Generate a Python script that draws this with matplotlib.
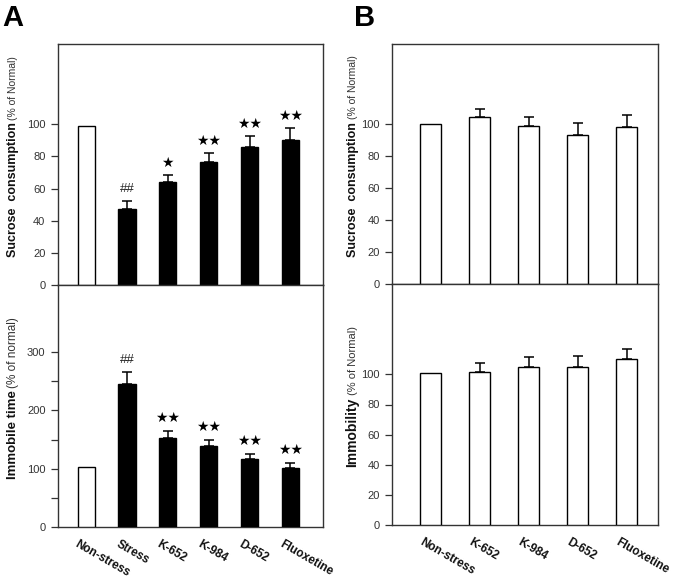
import matplotlib
matplotlib.use("Agg")
import matplotlib.pyplot as plt
import matplotlib.transforms as mtransforms
import numpy as np

plt.rcParams['font.family'] = ['Liberation Sans', 'DejaVu Sans']

# ---------------- data ----------------
groups_A = ["Non-stress", "Stress", "K-652", "K-984", "D-652", "Fluoxetine"]
sucrose_A = [98.8, 47.0, 64.0, 76.4, 85.9, 90.0]
sucrose_A_err = [0, 5.0, 4.3, 5.6, 6.6, 7.7]
sucrose_A_sig = ["", "##", "★", "★★", "★★", "★★"]
immobile_A = [103.0, 245.0, 153.4, 139.7, 117.3, 102.0]
immobile_A_err = [0, 20.6, 12.0, 10.3, 8.7, 8.5]
immobile_A_sig = ["", "##", "★★", "★★", "★★", "★★"]
fill_A = ["white", "black", "black", "black", "black", "black"]

groups_B = ["Non-stress", "K-652", "K-984", "D-652", "Fluoxetine"]
sucrose_B = [99.8, 104.1, 98.6, 93.0, 98.0]
sucrose_B_err = [0, 5.2, 5.7, 7.6, 7.6]
immob_B = [100.7, 101.3, 104.6, 104.6, 110.2]
immob_B_err = [0, 6.2, 6.7, 7.6, 6.6]
fill_B = ["white"] * 5

W, H = 675, 579
fig = plt.figure(figsize=(W / 100, H / 100), dpi=100)


def ax_px(left, top, right, bottom):
    return fig.add_axes([left / W, 1 - bottom / H, (right - left) / W, (bottom - top) / H])


axA1 = ax_px(58, 44, 323, 285)
axA2 = ax_px(58, 285, 323, 527)
axB1 = ax_px(392, 44, 658, 284)
axB2 = ax_px(392, 284, 658, 525)

TICK_COLOR = '#333333'


def draw_bars(ax, groups, vals, errs, fills, sig, ylim, yticks, ylabels, xlim, show_x):
    x = np.arange(len(groups))
    ax.bar(x, vals, width=0.42, color=fills, edgecolor='black', linewidth=1.0, zorder=3)
    has = [e > 0 for e in errs]
    xe = x[has]
    ve = np.array(vals)[has]
    ee = np.array(errs)[has]
    ax.errorbar(xe, ve, yerr=[np.zeros_like(ee), ee], fmt='none', ecolor='black',
                elinewidth=1.1, capsize=3.6, capthick=1.1, zorder=2)
    if sig is not None:
        for xi, v, e, s in zip(x, vals, errs, sig):
            if not s:
                continue
            is_hash = s.startswith('#')
            ax.annotate(s, (xi, v + e), xytext=(0, 9), textcoords='offset points',
                        ha='center', va='center',
                        fontsize=9.5 if is_hash else 10,
                        color='#222222' if is_hash else 'black',
                        family=['Liberation Sans', 'DejaVu Sans'] if is_hash else ['DejaVu Sans'])
    ax.set_xlim(*xlim)
    ax.set_ylim(*ylim)
    ax.set_yticks(yticks)
    ax.set_yticklabels(ylabels)
    ax.tick_params(axis='y', direction='out', length=5, width=0.9, pad=4,
                   labelsize=8, labelcolor=TICK_COLOR, color='#333333')
    for sp in ax.spines.values():
        sp.set_color('#333333')
        sp.set_linewidth(1.0)
    if show_x:
        ax.set_xticks(x)
        ax.set_xticklabels(groups, rotation=-30, ha='left', va='top',
                           rotation_mode='anchor', fontsize=8.5, fontweight='bold', color='#111111')
        ax.tick_params(axis='x', length=0, pad=8)
        off = mtransforms.ScaledTranslation(-7 / 100, 0, fig.dpi_scale_trans)
        for lab in ax.get_xticklabels():
            lab.set_transform(lab.get_transform() + off)
    else:
        ax.set_xticks([])


draw_bars(axA1, groups_A, sucrose_A, sucrose_A_err, fill_A, sucrose_A_sig,
          (0, 150), [0, 20, 40, 60, 80, 100], ['0', '20', '40', '60', '80', '100'],
          (-0.69, 5.8), False)
draw_bars(axA2, groups_A, immobile_A, immobile_A_err, fill_A, immobile_A_sig,
          (0, 415), [0, 50, 100, 150, 200, 250, 300], ['0', '', '100', '', '200', '', '300'],
          (-0.69, 5.8), True)
draw_bars(axB1, groups_B, sucrose_B, sucrose_B_err, fill_B, None,
          (0, 150), [0, 20, 40, 60, 80, 100], ['0', '20', '40', '60', '80', '100'],
          (-0.79, 4.64), False)
draw_bars(axB2, groups_B, immob_B, immob_B_err, fill_B, None,
          (0, 160), [0, 20, 40, 60, 80, 100], ['0', '20', '40', '60', '80', '100'],
          (-0.79, 4.64), True)

fig.canvas.draw()
renderer = fig.canvas.get_renderer()


def ylabel2(ax, bold, small, x_px, bold_size=9, small_size=7, gap=3):
    t1 = fig.text(x_px / W, 0, bold, rotation=90, rotation_mode='anchor', ha='left',
                  va='baseline', fontsize=bold_size, fontweight='bold', color='#111111')
    t2 = fig.text(x_px / W, 0, small, rotation=90, rotation_mode='anchor', ha='left',
                  va='baseline', fontsize=small_size, color='#333333')
    l1 = t1.get_window_extent(renderer).height
    l2 = t2.get_window_extent(renderer).height
    bb = ax.get_window_extent(renderer)
    center = (bb.y0 + bb.y1) / 2 + 8
    total = l1 + gap + l2
    y0 = center - total / 2
    t1.set_y(y0 / H)
    t2.set_y((y0 + l1 + gap) / H)


ylabel2(axA1, "Sucrose  consumption", "(% of Normal)", 16, bold_size=9, small_size=7.5)
ylabel2(axA2, "Immobile time", "(% of normal)", 16, bold_size=9.5, small_size=8.5, gap=2)
ylabel2(axB1, "Sucrose  consumption", "(% of Normal)", 356, bold_size=9, small_size=7.5)
ylabel2(axB2, "Immobility", "(% of Normal)", 356, bold_size=10, small_size=8, gap=2)

fig.text(2 / W, 1 - 26 / H, "A", fontsize=21, fontweight='bold', ha='left', va='baseline')
fig.text(354 / W, 1 - 26 / H, "B", fontsize=21, fontweight='bold', ha='left', va='baseline')

fig.savefig("out.png", dpi=100)
